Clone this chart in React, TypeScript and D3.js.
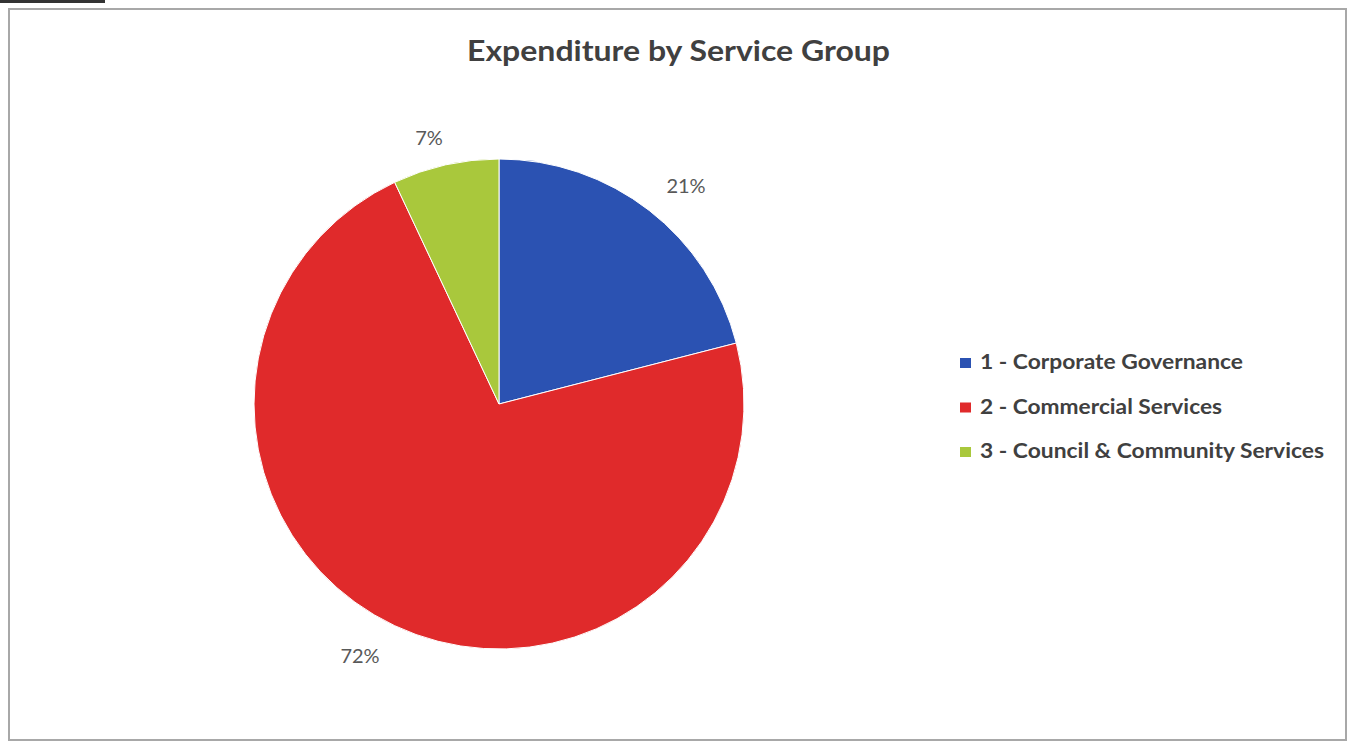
import React from "react";
import * as d3 from "d3";

const categories = ["1 - Corporate Governance", "2 - Commercial Services", "3 - Council & Community Services"];
const values = [21, 72, 7];
const labels = ["21%", "72%", "7%"];
const colors = ["#2b52b2", "#e02a2b", "#a9c83c"];
const legendWidths = [263, 242, 344];

const W = 1355;
const H = 745;

export default function App() {
  const cx = 499, cy = 404, r = 245;
  const pie = d3.pie<number>().sort(null).value((d) => d);
  const arcs = pie(values);
  const arc = d3.arc<d3.PieArcDatum<number>>().innerRadius(0).outerRadius(r);
  const labelPos = [
    [686, 193],
    [360, 663],
    [429, 145],
  ];
  return (
    <svg width={W} height={H} style={{ position: "absolute", left: 0, top: 0 }} fontFamily="Lato, 'Open Sans', sans-serif">
      <rect x={0} y={0} width={W} height={H} fill="#fff" />
      <rect x={0} y={0} width={105} height={3} fill="#333" />
      <rect x={9} y={9} width={1337} height={731} fill="#fff" stroke="#a8a8a8" strokeWidth={2} />
      <text x={678.5} y={61} textAnchor="middle" fontSize={29} fontWeight="bold" fill="#404040" textLength={423} lengthAdjust="spacingAndGlyphs">
        Expenditure by Service Group
      </text>
      <g transform={`translate(${cx},${cy})`}>
        {arcs.map((a, i) => (
          <path key={i} d={arc(a) || ""} fill={colors[i]} stroke="#fff" strokeWidth={1} />
        ))}
      </g>
      {arcs.map((a, i) => (
        <text key={i} x={labelPos[i][0]} y={labelPos[i][1]} textAnchor="middle" fontSize={20} fill="#595959">
          {labels[i]}
        </text>
      ))}
      {categories.map((c, i) => (
        <g key={c} transform={`translate(959,${369 + i * 44.5})`}>
          <rect x={1} y={-11} width={11} height={10} fill={colors[i]} />
          <text x={21} y={0} fontSize={21} fontWeight="bold" fill="#404040" textLength={legendWidths[i]} lengthAdjust="spacingAndGlyphs">
            {c}
          </text>
        </g>
      ))}
    </svg>
  );
}
